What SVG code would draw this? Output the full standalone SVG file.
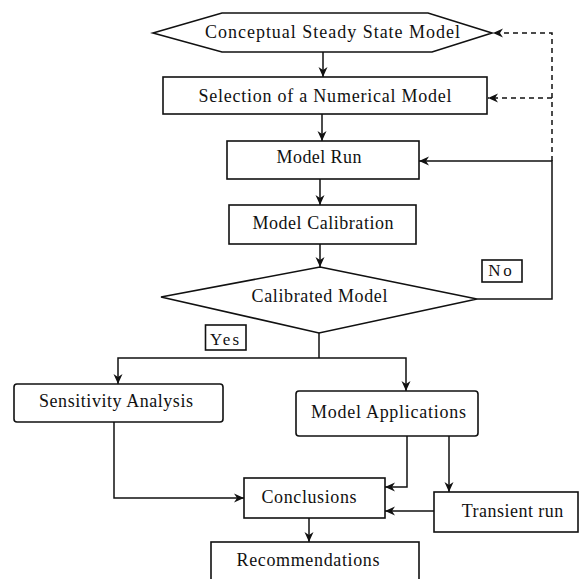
<svg xmlns="http://www.w3.org/2000/svg" width="580" height="579" viewBox="0 0 580 579">
<style>
.box{fill:#fff;stroke:#111;stroke-width:1.6}
.t{font-family:"Liberation Serif","Times New Roman",serif;font-size:18px;fill:#111;text-anchor:middle}
.s{font-size:17px}
.c{fill:none;stroke:#111;stroke-width:1.5}
.d{stroke-dasharray:5,4}
</style>
<defs>
<marker id="ah" viewBox="0 0 10 10" refX="10" refY="5" markerWidth="10" markerHeight="10" markerUnits="userSpaceOnUse" orient="auto">
<path d="M0,0.5 L10,5 L0,9.5 L3,5 z" fill="#111"/>
</marker>
</defs>
<rect width="580" height="579" fill="#fff"/>
<g id="connectors">
<path class="c" d="M323,52 V77" marker-end="url(#ah)"/>
<path class="c" d="M322,114 V141" marker-end="url(#ah)"/>
<path class="c" d="M320,179 V205" marker-end="url(#ah)"/>
<path class="c" d="M320,244 V267" marker-end="url(#ah)"/>
<path class="c" d="M477,299 H552 V161 H419" marker-end="url(#ah)"/>
<path class="c d" d="M552,161 V33 H493" marker-end="url(#ah)"/>
<path class="c d" d="M552,98 H488" marker-end="url(#ah)"/>
<path class="c" d="M319,333 V358"/>
<path class="c" d="M319,358 H118 V384" marker-end="url(#ah)"/>
<path class="c" d="M319,358 H406 V391" marker-end="url(#ah)"/>
<path class="c" d="M114,422 V498 H244" marker-end="url(#ah)"/>
<path class="c" d="M407,436 V487 H385" marker-end="url(#ah)"/>
<path class="c" d="M449,436 V492" marker-end="url(#ah)"/>
<path class="c" d="M434,511 H385" marker-end="url(#ah)"/>
<path class="c" d="M309,518 V542" marker-end="url(#ah)"/>
</g>
<g id="conceptual">
<polygon class="box" points="153,33 222,13 428,13 492,33 432,52 222,52"/>
<text class="t" x="332.5" y="38" textLength="255" lengthAdjust="spacing">Conceptual Steady State Model</text>
</g>
<g id="selection">
<rect class="box" x="163" y="77" width="324" height="37"/>
<text class="t" x="325" y="101.5" textLength="253" lengthAdjust="spacing">Selection of a Numerical Model</text>
</g>
<g id="modelrun">
<rect class="box" x="227" y="141" width="192" height="38"/>
<text class="t" x="319" y="163" textLength="85" lengthAdjust="spacing">Model Run</text>
</g>
<g id="calibration">
<rect class="box" x="229" y="205" width="187" height="39"/>
<text class="t" x="323" y="228.5" textLength="141" lengthAdjust="spacing">Model Calibration</text>
</g>
<g id="calibrated">
<polygon class="box" points="320,267 477,299 319,333 161,297"/>
<text class="t" x="319.5" y="302" textLength="136" lengthAdjust="spacing">Calibrated Model</text>
</g>
<g id="no">
<rect class="box" x="482" y="260" width="40" height="22"/>
<text class="t s" x="500" y="275.5" textLength="23.5" lengthAdjust="spacing">No</text>
</g>
<g id="yes">
<rect class="box" x="205.5" y="325" width="40.5" height="25"/>
<text class="t s" x="224.5" y="345" textLength="29" lengthAdjust="spacing">Yes</text>
</g>
<g id="sensitivity">
<rect class="box" x="14" y="384" width="209" height="38" rx="3"/>
<text class="t" x="116" y="407" textLength="154" lengthAdjust="spacing">Sensitivity Analysis</text>
</g>
<g id="applications">
<rect class="box" x="296" y="391" width="182" height="45" rx="3"/>
<text class="t" x="388.5" y="417.5" textLength="155" lengthAdjust="spacing">Model Applications</text>
</g>
<g id="conclusions">
<rect class="box" x="244" y="478" width="141" height="40"/>
<text class="t" x="309" y="503" textLength="95" lengthAdjust="spacing">Conclusions</text>
</g>
<g id="transient">
<rect class="box" x="434" y="492" width="144" height="40"/>
<text class="t" x="512.5" y="517" textLength="101.6" lengthAdjust="spacing">Transient run</text>
</g>
<g id="recommendations">
<rect class="box" x="211" y="542" width="208" height="45"/>
<text class="t" x="308" y="566" textLength="143" lengthAdjust="spacing">Recommendations</text>
</g>
</svg>
